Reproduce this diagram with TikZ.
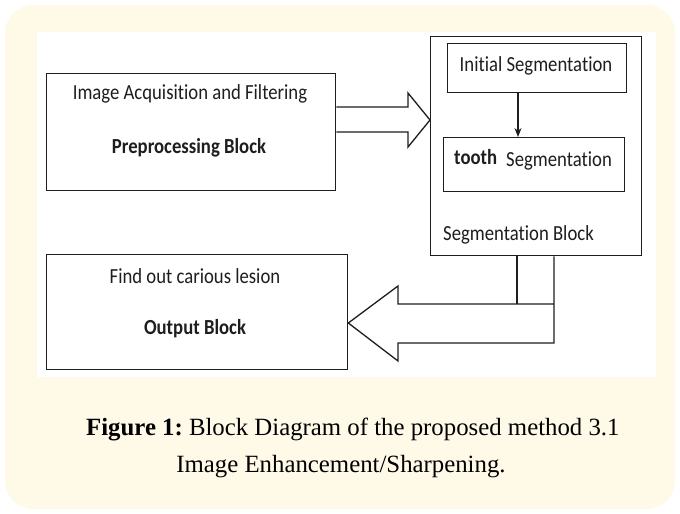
\documentclass[tikz,border=0pt]{standalone}
\usepackage{fontspec}
\usepackage{graphicx}
\setmainfont{Liberation Serif}
\newfontfamily\diagfont[Ligatures={NoCommon,NoContextual}]{Carlito}
\usetikzlibrary{arrows.meta}
\definecolor{paper}{RGB}{255,250,232}
\definecolor{ink}{RGB}{30,30,30}
\newcommand{\tall}[1]{\scalebox{1}[1.15]{#1}}
\frenchspacing
\begin{document}
\begin{tikzpicture}[x=1pt,y=-1pt,
  box/.style={draw=ink, line width=1.3pt, inner sep=0pt, anchor=north west},
  lbl/.style={font=\diagfont\fontsize{18.7}{20}\selectfont, anchor=base, inner sep=0pt, text=ink},
  hollow/.style={draw=ink, line width=1.3pt, line join=miter},
  captext/.style={font=\fontsize{24.8}{28}\selectfont, anchor=base west, inner sep=0pt, text=black}]
\useasboundingbox (0,0) rectangle (680,514);
% page, cream panel and white figure area
\fill[white] (0,0) rectangle (680,514);
\fill[paper, rounded corners=28pt] (5,5) rectangle (675,509);
\fill[white] (37,32) rectangle (656,377);

% blocks
\node[box, minimum width=289pt, minimum height=117pt] (pre) at (46,73) {};
\node[box, minimum width=211pt, minimum height=219pt] (seg) at (430,36) {};
\node[box, minimum width=179pt, minimum height=49pt] (init) at (447,43) {};
\node[box, minimum width=181pt, minimum height=54pt] (tooth) at (443,137) {};
\node[box, minimum width=301pt, minimum height=115pt] (out) at (46,254) {};

% block texts
\node[lbl] (preA) at (190,99) {\tall{Image Acquisition and Filtering}};
\node[lbl] (preB) at (189,153) {\tall{\bfseries Preprocessing Block}};
\node[lbl] (initT) at (536,71) {\tall{Initial Segmentation}};
\node[lbl, anchor=base west] (toothA) at (454,164) {\tall{\bfseries tooth}};
\node[lbl, anchor=base west] (toothB) at (506,166) {\tall{Segmentation}};
\node[lbl, anchor=base west] (segT) at (443,240) {\tall{Segmentation Block}};
\node[lbl] (outA) at (195,283) {\tall{Find out carious lesion}};
\node[lbl] (outB) at (195,334) {\tall{\bfseries Output Block}};

% arrow inside the segmentation block
\draw[ink, line width=1.2pt, -{Stealth[length=9pt,width=7pt]}]
  (init.south -| 518,0) -- (tooth.north -| 518,0);

% hollow arrow: preprocessing -> segmentation
\draw[hollow] (pre.east |- 0,107) -- (408,107) -- (408,93)
  -- (seg.west |- 0,120) -- (408,147) -- (408,132) -- (pre.east |- 0,132);

% hollow arrow: segmentation -> output
\draw[hollow] (seg.south -| 554,0) -- (554,343) -- (398,343) -- (398,361)
  -- (out.east |- 0,323) -- (398,286) -- (398,304) -- (554,304);
\draw[hollow] (seg.south -| 517,0) -- (517,304);

% caption
\node[captext] (cap1) at (86,435) {\textbf{Figure 1:} Block Diagram of the proposed method 3.1};
\node[captext, anchor=base] (cap2) at (341,472) {Image Enhancement/Sharpening.};
\end{tikzpicture}
\end{document}
